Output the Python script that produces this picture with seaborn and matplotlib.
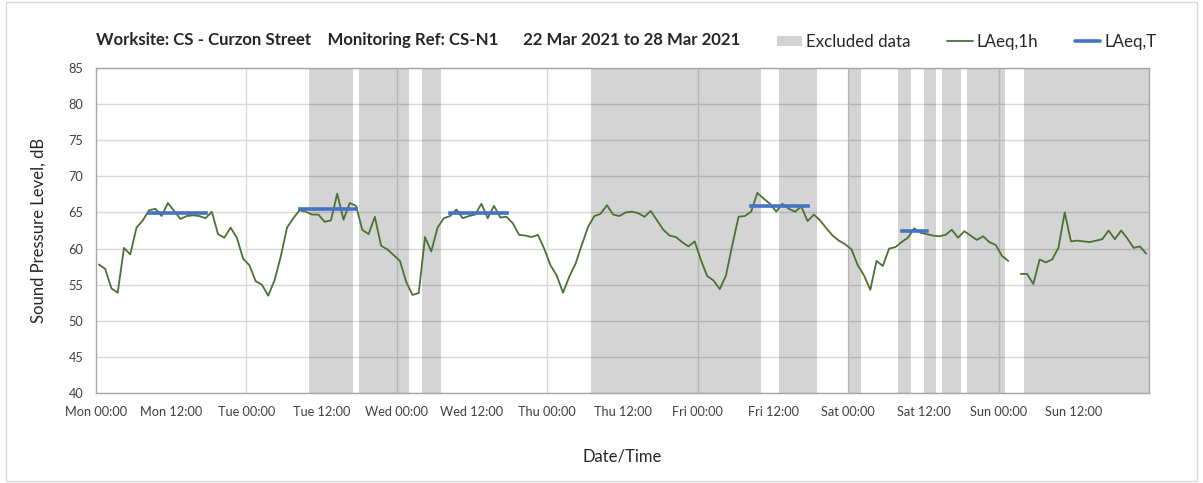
import numpy as np
import pandas as pd
import matplotlib.pyplot as plt
from matplotlib.patches import Patch, Rectangle
from matplotlib.lines import Line2D
import seaborn as sns


# hourly LAeq,1h from Mon 00:00 (hour 146, Sun 02:00, is missing)
laeq_1h = [
    57.8, 57.2, 54.5, 53.9, 60.1, 59.2, 62.9, 63.9, 65.3, 65.5, 64.5, 66.3,
    65.2, 64.1, 64.5, 64.6, 64.5, 64.2, 65.1, 62.0, 61.5, 62.9, 61.5, 58.6,
    57.7, 55.5, 55.0, 53.5, 55.6, 58.9, 62.9, 64.2, 65.3, 65.1, 64.7, 64.7,
    63.7, 63.9, 67.6, 64.0, 66.3, 65.9, 62.6, 62.0, 64.4, 60.4, 59.9, 59.1,
    58.3, 55.4, 53.6, 53.85, 61.6, 59.6, 62.9, 64.2, 64.5, 65.4, 64.2, 64.5,
    64.7, 66.2, 64.2, 65.9, 64.3, 64.4, 63.5, 61.9, 61.8, 61.6, 61.9, 60.0,
    57.7, 56.3, 53.9, 56.1, 57.9, 60.5, 63.0, 64.5, 64.8, 66.0, 64.7, 64.5,
    65.0, 65.1, 64.9, 64.4, 65.2, 63.9, 62.6, 61.8, 61.6, 60.9, 60.3, 61.0,
    58.4, 56.2, 55.6, 54.4, 56.3, 60.5, 64.4, 64.5, 65.1, 67.7, 66.9, 66.2,
    65.1, 66.2, 65.5, 65.1, 65.8, 63.8, 64.7, 63.9, 62.8, 61.8, 61.1, 60.6,
    59.9, 57.7, 56.3, 54.3, 58.3, 57.6, 60.0, 60.2, 60.9, 61.5, 62.8, 62.2,
    62.0, 61.8, 61.7, 61.9, 62.6, 61.5, 62.4, 61.8, 61.2, 61.7, 60.9, 60.5,
    59.0, 58.3, np.nan, 56.5, 56.5, 55.1, 58.5, 58.1, 58.5, 60.1, 65.0, 61.0,
    61.1, 61.0, 60.9, 61.1, 61.3, 62.5, 61.3, 62.5, 61.4, 60.1, 60.3, 59.3,
]

# LAeq,T daytime periods: first / last hourly index and level
period_first = [8, 32, 56, 104, 128]
period_last = [17, 41, 65, 113, 132]
period_level = [64.9, 65.5, 64.9, 65.9, 62.5]

# excluded data, hours from Mon 00:00
excl_start = [34, 42, 52, 79, 109, 120, 128, 132, 135, 139, 148]
excl_end = [41, 50, 55, 106, 115, 122, 130, 134, 138, 145, 168]

tick_labels = ["Mon 00:00", "Mon 12:00", "Tue 00:00", "Tue 12:00", "Wed 00:00",
               "Wed 12:00", "Thu 00:00", "Thu 12:00", "Fri 00:00", "Fri 12:00",
               "Sat 00:00", "Sat 12:00", "Sun 00:00", "Sun 12:00", ""]

green = "#4a7232"
blue = "#4472c4"
grey = "#a6a6a6"

sns.set_theme(style="white")
plt.rcParams["font.family"] = ["Lato", "DejaVu Sans"]
plt.rcParams["text.color"] = "#262626"

df = pd.DataFrame({"hour": np.arange(len(laeq_1h)) + 0.5, "level": laeq_1h})
df["part"] = df["level"].isna().cumsum()
df = df.dropna()

rows = []
for k in range(len(period_level)):
    for idx in (period_first[k], period_last[k]):
        rows.append({"hour": idx + 0.5, "level": period_level[k], "period": k})
df_t = pd.DataFrame(rows)

fig = plt.figure(figsize=(12.03, 4.83), dpi=100)
ax = fig.add_axes([0.0796, 0.1857, 0.8758, 0.6741])

for s, e in zip(excl_start, excl_end):
    ax.axvspan(s, e, color="black", alpha=0.17, lw=0, zorder=1)

sns.lineplot(data=df, x="hour", y="level", units="part", estimator=None,
             color=green, lw=1.3, ax=ax, zorder=3)
sns.lineplot(data=df_t, x="hour", y="level", units="period", estimator=None,
             color=blue, lw=2.6, solid_capstyle="projecting", ax=ax, zorder=4)

ax.set_xlim(0, 168)
ax.set_ylim(40, 85)
ax.set_xticks(np.arange(0, 169, 12))
ax.set_xticklabels(tick_labels)
ax.set_yticks(np.arange(40, 86, 5))
ax.set_axisbelow(True)
ax.yaxis.grid(True, color="#d9d9d9", lw=1)
for d in range(24, 168, 24):
    ax.axvline(d, color="#d9d9d9", lw=1, zorder=0.5)
for sp in ax.spines.values():
    sp.set_color(grey)
    sp.set_linewidth(1)
ax.tick_params(axis="both", colors="#404040", labelsize=9.2, direction="out")
ax.tick_params(axis="x", length=4, width=1, color=grey, pad=5)
ax.tick_params(axis="y", length=5, width=1, color=grey, pad=4)

ax.set_xlabel("Date/Time", fontsize=12, labelpad=22, color="#262626")
ax.set_ylabel("Sound Pressure Level, dB", fontsize=12, labelpad=16, color="#262626")

fig.text(0.0796, 0.918, "Worksite: CS - Curzon Street    Monitoring Ref: CS-N1      "
         "22 Mar 2021 to 28 Mar 2021", fontsize=12.1, fontweight="bold",
         va="center", ha="left")

handles = [Patch(facecolor="#d3d3d3", edgecolor="none"),
           Line2D([], [], color=green, lw=1.3),
           Line2D([], [], color=blue, lw=2.6)]
fig.legend(handles, ["Excluded data", "LAeq,1h", "LAeq,T"], ncol=3,
           loc="center right", bbox_to_anchor=(0.9715, 0.913), frameon=False,
           fontsize=12.2, handlelength=1.5, handleheight=0.6, handletextpad=0.25,
           columnspacing=2.15, borderpad=0.2)

fig.add_artist(Rectangle((0.005, 0.004), 0.99, 0.992, transform=fig.transFigure,
                         fill=False, edgecolor="#d9d9d9", lw=1))

fig.savefig("out.png", dpi=100)
